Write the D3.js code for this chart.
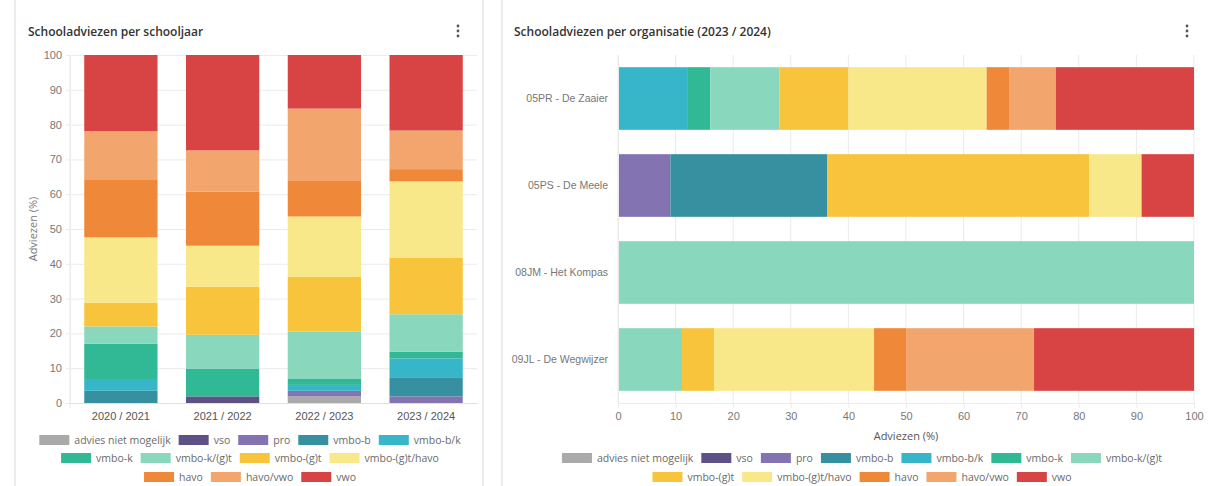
<!DOCTYPE html>
<html lang="nl">
<head>
    <meta charset="UTF-8">
    <title>Schooladviezen</title>
    <script src="https://d3js.org/d3.v7.min.js"></script>
    <style>
        body { margin: 0; background: #fff; }
        svg { display: block; font-family: "Open Sans", sans-serif; }
    </style>
</head>
<body>
    <svg></svg>
    <script>
        // advice categories, in stacking order (bottom/left first)
        const categories = ["advies niet mogelijk", "vso", "pro", "vmbo-b", "vmbo-b/k", "vmbo-k",
            "vmbo-k/(g)t", "vmbo-(g)t", "vmbo-(g)t/havo", "havo", "havo/vwo", "vwo"];
        const colors = ["#aaaaaa", "#5e5185", "#8373b0", "#36909f", "#36b6c8", "#31b996",
            "#89d8bd", "#f8c43c", "#f8e889", "#f0883a", "#f2a66d", "#d84444"];

        // chart 1: per schooljaar (%)
        const schoolYears = ["2020 / 2021", "2021 / 2022", "2022 / 2023", "2023 / 2024"];
        const year2021 = [0, 0, 0, 3.5, 3.4, 10.1, 5.0, 6.8, 18.8, 16.7, 13.8, 21.9];
        const year2122 = [0, 1.9, 0, 0, 0, 8.0, 9.7, 13.8, 11.8, 15.5, 11.9, 27.4];
        const year2223 = [1.9, 0, 1.6, 0, 1.7, 1.7, 13.7, 15.6, 17.4, 10.2, 20.8, 15.4];
        const year2324 = [0, 0, 1.9, 5.3, 5.6, 1.9, 10.8, 16.3, 21.9, 3.5, 11.1, 21.7];

        // chart 2: per organisatie 2023 / 2024 (%)
        const organisations = ["05PR - De Zaaier", "05PS - De Meele", "08JM - Het Kompas", "09JL - De Wegwijzer"];
        const org05PR = [0, 0, 0, 0, 12, 4, 12, 12, 24, 4, 8, 24];
        const org05PS = [0, 0, 9.09, 27.27, 0, 0, 0, 45.45, 9.09, 0, 0, 9.09];
        const org08JM = [0, 0, 0, 0, 0, 0, 100, 0, 0, 0, 0, 0];
        const org09JL = [0, 0, 0, 0, 0, 0, 11.11, 5.56, 27.78, 5.56, 22.22, 27.78];

        const percentTicks = [0, 10, 20, 30, 40, 50, 60, 70, 80, 90, 100];

        const width = 1208;
        const height = 486;
        const gridColor = "#ebebeb";
        const labelColor = "#6a6a6a";

        const svg = d3.select("svg")
            .attr("width", width)
            .attr("height", height);

        // panel borders
        [15, 483, 502].forEach(x => {
            svg.append("line")
                .attr("x1", x).attr("x2", x)
                .attr("y1", 0).attr("y2", height)
                .attr("stroke", "#e6e6e6")
                .attr("stroke-width", 1.5);
        });

        function panelHeader(x, text, dotsX) {
            svg.append("text")
                .attr("x", x).attr("y", 36)
                .attr("font-size", 12)
                .attr("font-weight", 600)
                .attr("fill", "#333")
                .text(text);
            svg.append("g").selectAll("circle")
                .data([26, 31, 36])
                .join("circle")
                .attr("cx", dotsX).attr("cy", d => d)
                .attr("r", 1.4)
                .attr("fill", "#555");
        }

        const stack = d3.stack()
            .keys(d3.range(categories.length))
            .value((d, k) => d.values[k]);

        function drawLegend(rowSizes, cx, rowYs, fontSize) {
            let idx = 0;
            rowSizes.forEach((n, r) => {
                const row = svg.append("g");
                let x = 0;
                for (let i = 0; i < n; i++, idx++) {
                    const item = row.append("g").attr("transform", `translate(${x},0)`);
                    item.append("rect")
                        .attr("x", 0).attr("y", -5)
                        .attr("width", 30).attr("height", 10)
                        .attr("fill", colors[idx]);
                    const t = item.append("text")
                        .attr("x", 35).attr("y", 0)
                        .attr("dy", "0.35em")
                        .attr("font-size", fontSize)
                        .attr("fill", labelColor)
                        .text(categories[idx]);
                    x += 35 + t.node().getComputedTextLength() + 8;
                }
                const total = x - 8;
                row.attr("transform", `translate(${cx - total / 2},${rowYs[r]})`);
            });
        }

        // ---------- chart 1: per schooljaar ----------
        panelHeader(28, "Schooladviezen per schooljaar", 458);

        const left = {x0: 70, x1: 477, y0: 55, y1: 403};

        const xYear = d3.scaleBand()
            .domain(schoolYears)
            .range([left.x0, left.x1])
            .paddingInner(0.28)
            .paddingOuter(0.14);

        const yPct = d3.scaleLinear()
            .domain([0, 100])
            .range([left.y1, left.y0]);

        const yAxis = svg.append("g")
            .attr("transform", `translate(${left.x0},0)`)
            .call(d3.axisLeft(yPct).tickValues(percentTicks)
                .tickSizeInner(-(left.x1 - left.x0)).tickSizeOuter(0).tickPadding(8));
        yAxis.select(".domain").attr("stroke", gridColor);
        yAxis.selectAll(".tick line").attr("stroke", gridColor).attr("x1", -4);
        yAxis.selectAll(".tick text").attr("fill", "#777").attr("font-size", 11)
            .attr("font-family", null);

        svg.append("line")
            .attr("x1", left.x0).attr("x2", left.x0)
            .attr("y1", left.y0).attr("y2", left.y1 + 5)
            .attr("stroke", gridColor);

        svg.append("text")
            .attr("transform", `translate(33,${(left.y0 + left.y1) / 2}) rotate(-90)`)
            .attr("text-anchor", "middle")
            .attr("dy", "0.35em")
            .attr("font-size", 11)
            .attr("fill", "#777")
            .text("Adviezen (%)");

        const yearRows = [year2021, year2122, year2223, year2324]
            .map((v, i) => ({label: schoolYears[i], values: v}));

        svg.append("g")
            .selectAll("g")
            .data(stack(yearRows))
            .join("g")
            .attr("fill", d => colors[d.key])
            .selectAll("rect")
            .data(d => d)
            .join("rect")
            .attr("x", d => xYear(d.data.label))
            .attr("y", d => yPct(d[1]))
            .attr("width", xYear.bandwidth())
            .attr("height", d => yPct(d[0]) - yPct(d[1]));

        const xAxis = svg.append("g")
            .attr("transform", `translate(0,${left.y1})`)
            .call(d3.axisBottom(xYear).tickSize(0).tickPadding(9));
        xAxis.select(".domain").attr("stroke", "#e0e0e0");
        xAxis.selectAll(".tick text").attr("fill", "#555").attr("font-size", 11)
            .attr("font-family", null);

        drawLegend([5, 4, 3], 250, [440, 458, 477], 10.5);

        // ---------- chart 2: per organisatie ----------
        panelHeader(514, "Schooladviezen per organisatie (2023 / 2024)", 1187);

        const right = {x0: 618, x1: 1194, y0: 55, y1: 403};

        const xPct = d3.scaleLinear()
            .domain([0, 100])
            .range([right.x0, right.x1]);

        const yOrg = d3.scaleBand()
            .domain(organisations)
            .range([right.y0, right.y1])
            .paddingInner(0.28)
            .paddingOuter(0.14);

        // vertical grid
        svg.append("g")
            .selectAll("line")
            .data(percentTicks)
            .join("line")
            .attr("x1", d => xPct(d)).attr("x2", d => xPct(d))
            .attr("y1", right.y0).attr("y2", right.y1)
            .attr("stroke", gridColor);

        const orgRows = [org05PR, org05PS, org08JM, org09JL]
            .map((v, i) => ({label: organisations[i], values: v}));

        svg.append("g")
            .selectAll("g")
            .data(stack(orgRows))
            .join("g")
            .attr("fill", d => colors[d.key])
            .selectAll("rect")
            .data(d => d)
            .join("rect")
            .attr("x", d => xPct(d[0]))
            .attr("y", d => yOrg(d.data.label))
            .attr("width", d => xPct(d[1]) - xPct(d[0]))
            .attr("height", yOrg.bandwidth());

        const xAxis2 = svg.append("g")
            .attr("transform", `translate(0,${right.y1})`)
            .call(d3.axisBottom(xPct).tickValues(percentTicks).tickSize(5).tickPadding(4));
        xAxis2.select(".domain").attr("stroke", gridColor);
        xAxis2.selectAll(".tick line").attr("stroke", gridColor);
        xAxis2.selectAll(".tick text").attr("fill", "#777").attr("font-size", 11)
            .attr("font-family", null);

        const yAxis2 = svg.append("g")
            .attr("transform", `translate(${right.x0},0)`)
            .call(d3.axisLeft(yOrg).tickSize(0).tickPadding(10));
        yAxis2.select(".domain").attr("stroke", gridColor);
        yAxis2.selectAll(".tick text").attr("fill", "#777").attr("font-size", 10.5)
            .attr("font-family", null);

        svg.append("text")
            .attr("x", (right.x0 + right.x1) / 2)
            .attr("y", 436)
            .attr("dy", "0.35em")
            .attr("text-anchor", "middle")
            .attr("font-size", 11)
            .attr("fill", "#555")
            .text("Adviezen (%)");

        drawLegend([7, 5], 862, [458, 477], 10.5);
    </script>
</body>
</html>
